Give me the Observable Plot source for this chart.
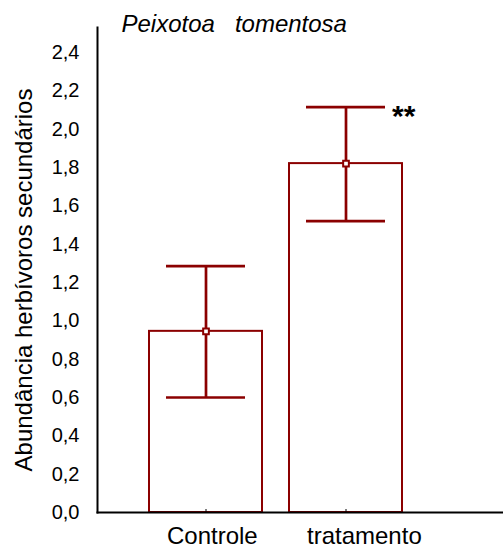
<!DOCTYPE html>
<html><head><meta charset="utf-8">
<script src="https://cdn.jsdelivr.net/npm/d3@7"></script>
<script src="https://cdn.jsdelivr.net/npm/@observablehq/plot@0.6"></script>
<style>body{margin:0;background:#fff;} svg{display:block;}</style>
</head><body><div id="chart"></div>
<script>
const categories = ["Controle", "tratamento"];
const means = [0.945, 1.82];
const lower = [0.60, 1.52];
const upper = [1.285, 2.115];
const yTicks = [0, 0.2, 0.4, 0.6, 0.8, 1.0, 1.2, 1.4, 1.6, 1.8, 2.0, 2.2, 2.4];
const title = "Peixotoa   tomentosa";
const yLabel = "Abundância herbívoros secundários";
const signif = "**";

const data = categories.map((c, i) => ({cat: c, mean: means[i], lo: lower[i], hi: upper[i]}));
const red = "#8b0000";

const plot = Plot.plot({
  width: 503, height: 548,
  marginLeft: 97, marginRight: 0, marginTop: 27, marginBottom: 36,
  style: {fontFamily: "Liberation Sans, Arial, sans-serif", fontSize: "20px", color: "#000", background: "#fff"},
  x: {domain: categories, paddingInner: 0.19, paddingOuter: 0.535, align: 0.338, label: null},
  y: {domain: [0, 2.53], label: null},
  marks: [
    Plot.barY(data, {x: "cat", y: "mean", fill: "white", stroke: red, strokeWidth: 2}),
    Plot.ruleX(data, {x: "cat", y1: "lo", y2: "hi", stroke: red, strokeWidth: 2.7}),
    Plot.tickY(data, {x: "cat", y: "lo", stroke: red, strokeWidth: 2.7, inset: 17}),
    Plot.tickY(data, {x: "cat", y: "hi", stroke: red, strokeWidth: 2.7, inset: 17}),
    Plot.dot(data, {x: "cat", y: "mean", symbol: "square", r: 3.2, fill: "white", stroke: red, strokeWidth: 2}),
    Plot.text(data.filter(d => d.cat === "tratamento"), {x: "cat", y: "hi", text: () => signif, dx: 46, dy: -2, lineAnchor: "top", textAnchor: "start", fontSize: 30, fontWeight: "bold"}),
    Plot.axisY({ticks: yTicks, tickSize: 0, tickPadding: 18, tickFormat: d => d.toFixed(1).replace(".", ","), label: null, fontSize: 20}),
    Plot.axisX({tickSize: -3, tickFormat: () => "", label: null}),
    Plot.text(categories, {x: d => d, frameAnchor: "bottom", textAnchor: "start", lineAnchor: "top", dx: -39, dy: 14, fontSize: 24}),
    Plot.frame({anchor: "left", stroke: "black", strokeWidth: 2}),
    Plot.frame({anchor: "bottom", stroke: "black", strokeWidth: 2}),
    Plot.text([yLabel], {frameAnchor: "left", rotate: -90, dx: -73, dy: 10, textAnchor: "middle", lineAnchor: "middle", fontSize: 24}),
    Plot.text([title], {frameAnchor: "top-left", dx: 24, dy: -3, lineAnchor: "middle", fontStyle: "italic", fontSize: 24})
  ]
});
document.getElementById("chart").appendChild(plot);
</script>
</body></html>
